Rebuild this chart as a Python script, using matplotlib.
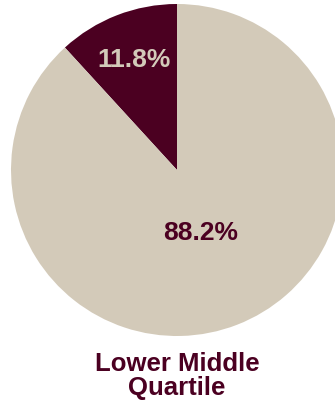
import numpy as np
import matplotlib.pyplot as plt

# datos
etiquetas = ["Sí", "No"]
valores = [11.8, 88.2]
colores = ["#4B0021", "#D3CAB9"]
colores_texto = ["#D3CAB9", "#4B0021"]
distancias = [0.72, 0.40]
titulo = "Lower Middle\nQuartile"

plt.rcParams['font.family'] = ['Liberation Sans', 'DejaVu Sans']

fig = plt.figure(figsize=(3.35, 4.10), dpi=100)
W, H = 335, 410
cx, cy, r = 177, 171, 166
ax = fig.add_axes([(cx - r) / W, (H - cy - r) / H, 2 * r / W, 2 * r / H])

wedges, _ = ax.pie(valores, colors=colores, startangle=90, counterclock=True,
                   radius=1, wedgeprops=dict(linewidth=0))
ax.set_xlim(-1, 1)
ax.set_ylim(-1, 1)
ax.set_aspect('equal')
ax.axis('off')

for w, v, c, d in zip(wedges, valores, colores_texto, distancias):
    ang = np.deg2rad((w.theta1 + w.theta2) / 2)
    ax.text(d * np.cos(ang), d * np.sin(ang), f"{v:.1f}%", color=c,
            fontsize=19, fontweight='bold', ha='center', va='center')

fig.text(cx / W, 1 - 376 / H, titulo, color="#4B0021", fontsize=18.5,
         fontweight='bold', ha='center', va='center', linespacing=1.05)

fig.savefig("out.png", dpi=100)
